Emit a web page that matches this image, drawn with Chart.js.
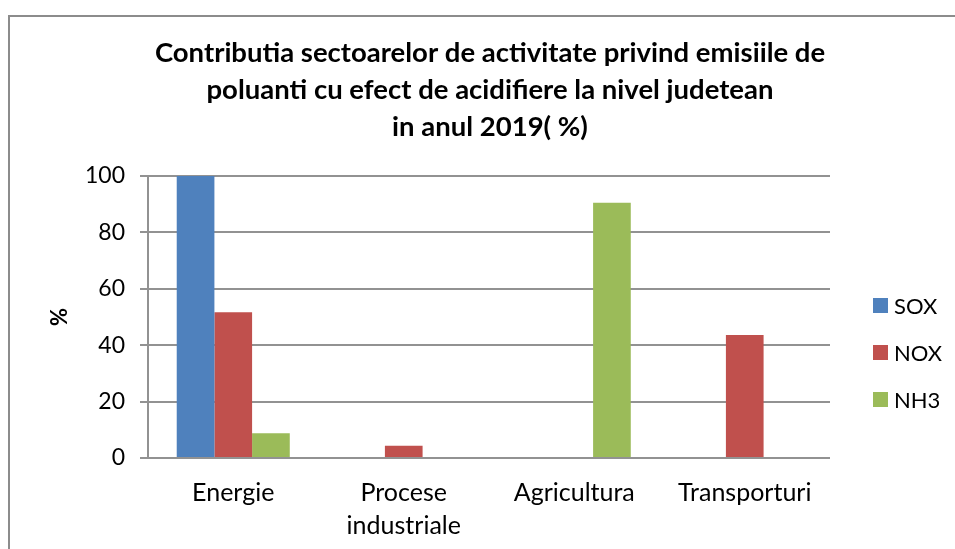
<!DOCTYPE html>
<html>
<head>
<meta charset="utf-8">
<script src="https://cdn.jsdelivr.net/npm/chart.js@4.4.1/dist/chart.umd.min.js"></script>
<style>
  html, body { margin:0; padding:0; background:#fff; overflow:hidden; width:955px; height:549px; }
  #frame { position:absolute; left:8px; top:15px; width:960px; height:540px;
           border-left:2px solid #8c8c8c; border-top:2px solid #8c8c8c; }
  #frame canvas { display:block; }
  #legend { position:absolute; left:873px; top:292px; font-family:Lato, sans-serif; font-size:22px; color:#000; }
  #legend .item { display:flex; align-items:center; height:26px; margin-bottom:21px; }
  #legend .box { width:15px; height:15px; margin-right:6px; }
</style>
</head>
<body>
<div id="frame"><canvas id="chart" width="960" height="540"></canvas></div>
<div id="legend"></div>
<script>
// Contributia sectoarelor (%) - 2019
const categories = ['Energie', ['Procese', 'industriale'], 'Agricultura', 'Transporturi'];
const seriesNames = ['SOX', 'NOX', 'NH3'];
const seriesColors = ['#4F81BD', '#C0504D', '#9BBB59'];
const sox = [100, 0, 0, 0];
const nox = [51.7, 4.3, 0, 43.6];
const nh3 = [8.8, 0, 90.5, 0];
const yTicks = [0, 20, 40, 60, 80, 100];

const gridColor = '#929292';
const values = [sox, nox, nh3];

const datasets = seriesNames.map((name, i) => ({
  label: name,
  data: values[i],
  backgroundColor: seriesColors[i],
  borderWidth: 0,
  categoryPercentage: 0.663,
  barPercentage: 1.0
}));

new Chart(document.getElementById('chart').getContext('2d'), {
  type: 'bar',
  data: { labels: categories, datasets },
  options: {
    responsive: false,
    animation: false,
    layout: { padding: 0 },
    plugins: {
      legend: { display: false },
      tooltip: { enabled: false },
      title: {
        display: true,
        text: ['Contributia sectoarelor de activitate privind emisiile de',
               'poluanti cu efect de acidifiere la nivel judetean',
               'in anul 2019( %)'],
        color: '#000',
        font: { family: 'Lato', size: 27.5, weight: 'bold', lineHeight: 37 / 27.5 },
        padding: { top: 17.5, bottom: 30.5 }
      }
    },
    scales: {
      x: {
        grid: { display: false, drawTicks: false },
        border: { display: false },
        ticks: { color: '#000', padding: 18, font: { family: 'Lato', size: 25, lineHeight: 33 / 25 }, maxRotation: 0 },
        afterFit: s => { s.height = 99; }
      },
      y: {
        min: 0, max: 100,
        afterBuildTicks: s => { s.ticks = yTicks.map(v => ({ value: v })); },
        grid: { color: gridColor, lineWidth: 2, drawTicks: true, tickLength: 8 },
        border: { color: gridColor, width: 2 },
        ticks: { color: '#000', padding: 15, font: { family: 'Lato', size: 23 } },
        title: { display: true, text: '%', color: '#000', padding: { top: 37, bottom: 0 }, font: { family: 'Lato', size: 22, weight: 'bold' } },
        afterFit: s => { s.width = 138; }
      },
      // empty right-hand scale that keeps room for the legend
      yRight: {
        position: 'right',
        min: 0, max: 100,
        grid: { display: false, drawTicks: false },
        border: { display: false },
        ticks: { display: false },
        afterFit: s => { s.width = 140; }
      }
    }
  }
});

// legend on the right, built from the series arrays
const legend = document.getElementById('legend');
seriesNames.forEach((name, i) => {
  const row = document.createElement('div');
  row.className = 'item';
  row.innerHTML = `<span class="box" style="background:${seriesColors[i]}"></span><span>${name}</span>`;
  legend.appendChild(row);
});
</script>
</body>
</html>
